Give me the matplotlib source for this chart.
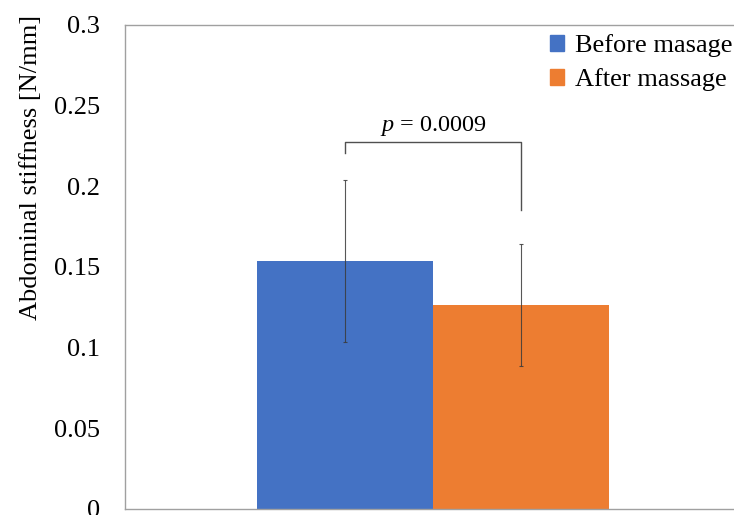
import matplotlib.pyplot as plt
from matplotlib.patches import Patch

plt.rcParams['font.family'] = ['Liberation Serif', 'DejaVu Serif']
plt.rcParams['mathtext.fontset'] = 'custom'
plt.rcParams['mathtext.it'] = 'Liberation Serif:italic'
plt.rcParams['mathtext.rm'] = 'Liberation Serif'

groups = ["Before masage", "After massage"]
means = [0.1537, 0.1265]
sds = [0.0503, 0.0378]
colors = ["#4472C4", "#ED7D31"]
p_text = "0.0009"
yticks = [0, 0.05, 0.1, 0.15, 0.2, 0.25, 0.3]
ytick_labels = ["0", "0.05", "0.1", "0.15", "0.2", "0.25", "0.3"]

fig = plt.figure(figsize=(7.34, 5.15), dpi=100)
ax = fig.add_axes([0.1703, 0.0117, 0.84, 0.94])

xs = [0, 1]
ax.bar(xs, means, width=1.0, color=colors)
ax.errorbar(xs, means, yerr=sds, fmt='none', ecolor='#3a3a3a', elinewidth=0.8,
            capsize=1.5, capthick=0.8, alpha=0.85)

# significance bracket
by = 0.2275
ax.plot([0, 0, 1, 1], [0.2207, by, by, 0.1854], color='#505050', lw=1.0)
ax.text(0.5, by + 0.0025, "$p$ = " + p_text, ha='center', va='bottom', fontsize=17.5)

ax.set_xlim(-1.25, 2.25)
ax.set_ylim(0, 0.3)
ax.set_xticks([])
ax.set_yticks(yticks)
ax.set_yticklabels(ytick_labels, fontsize=19)
ax.tick_params(axis='y', length=0, pad=18)
ax.set_ylabel("Abdominal stiffness [N/mm]", fontsize=19)
ax.yaxis.set_label_coords(-0.135, 0.705)
for s in ax.spines.values():
    s.set_color('#a0a0a0')
    s.set_linewidth(1.0)

handles = [Patch(color=c, label=g) for c, g in zip(colors, groups)]
fig.legend(handles=handles, loc='upper right', bbox_to_anchor=(1.03, 0.98),
           frameon=False, fontsize=19, handlelength=0.55, handleheight=0.55,
           handletextpad=0.4, labelspacing=0.42)

fig.savefig("out.png", dpi=100)
